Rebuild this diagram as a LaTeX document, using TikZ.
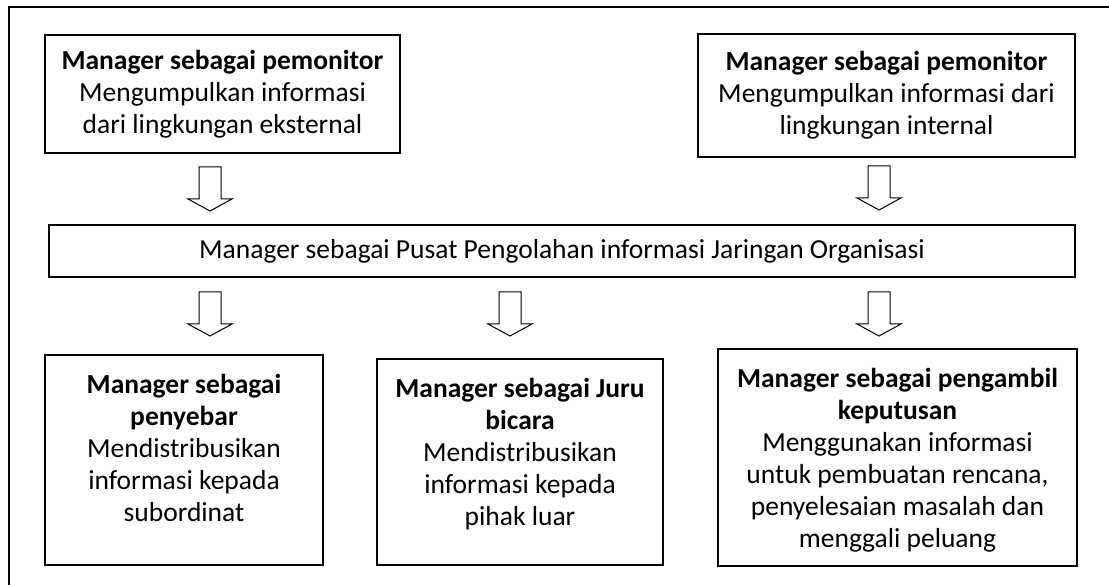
\documentclass[tikz,border=0pt]{standalone}
\usepackage{fontspec}
\setmainfont{Carlito}
\usetikzlibrary{positioning}

\tikzset{
  box/.style={draw, line width=1.2pt, inner sep=0pt},
  txt/.style={align=center, inner sep=0pt,
    font=\fontsize{27.5}{32}\selectfont},
  hollow/.style={draw, line width=1pt, line join=miter}
}
% hollow block arrow pointing down, hung from its top centre
\newcommand{\downblock}[1]{%
  \draw[hollow] (#1) ++(-11,0) -- ++(22,0) -- ++(0,32) -- ++(11,0)
    -- ++(-22,12) -- ++(-22,-12) -- ++(11,0) -- cycle;}

\begin{document}
\begin{tikzpicture}[x=1pt, y=-1pt]
  \useasboundingbox (0,0) rectangle (1109,585);
  % outer frame, cut by the page on the right and bottom
  \draw[line width=1.2pt] (1109,7) -- (9,7) -- (9,585);

  % top row
  \node[box, txt, minimum width=355pt, minimum height=118pt]
    (mon1) at (222.5,94)
    {\textbf{Manager sebagai pemonitor}\\Mengumpulkan informasi\\dari lingkungan eksternal};
  \node[box, txt, minimum width=377pt, minimum height=123pt]
    (mon2) at (886.5,95.5)
    {\textbf{Manager sebagai pemonitor}\\Mengumpulkan informasi dari\\lingkungan internal};

  % centre bar
  \node[box, txt, minimum width=1026pt, minimum height=52pt]
    (pusat) at (562,251)
    {Manager sebagai Pusat Pengolahan informasi Jaringan Organisasi};

  % bottom row
  \node[box, minimum width=278pt, minimum height=210pt] (peny) at (184,460) {};
  \node[txt, below=20pt of peny.north] (penyT)
    {\textbf{Manager sebagai}\\\textbf{penyebar}\\Mendistribusikan\\informasi kepada\\subordinat};
  \node[box, minimum width=286pt, minimum height=206pt] (juru) at (520,462) {};
  \node[txt, below=20pt of juru.north] (juruT)
    {\textbf{Manager sebagai Juru}\\\textbf{bicara}\\Mendistribusikan\\informasi kepada\\pihak luar};
  \node[box, minimum width=359pt, minimum height=217pt] (ambil) at (897.5,457.5) {};
  \node[txt, below=20pt of ambil.north] (ambilT)
    {\textbf{Manager sebagai pengambil}\\\textbf{keputusan}\\Menggunakan informasi\\untuk pembuatan rencana,\\penyelesaian masalah dan\\menggali peluang};

  % arrows
  \coordinate (a1) at (210,167);
  \coordinate (a2) at (879,166);
  \coordinate (a3) at (210,292);
  \coordinate (a4) at (510,292);
  \coordinate (a5) at (879,292);
  \downblock{a1}
  \downblock{a2}
  \downblock{a3}
  \downblock{a4}
  \downblock{a5}
\end{tikzpicture}
\end{document}
